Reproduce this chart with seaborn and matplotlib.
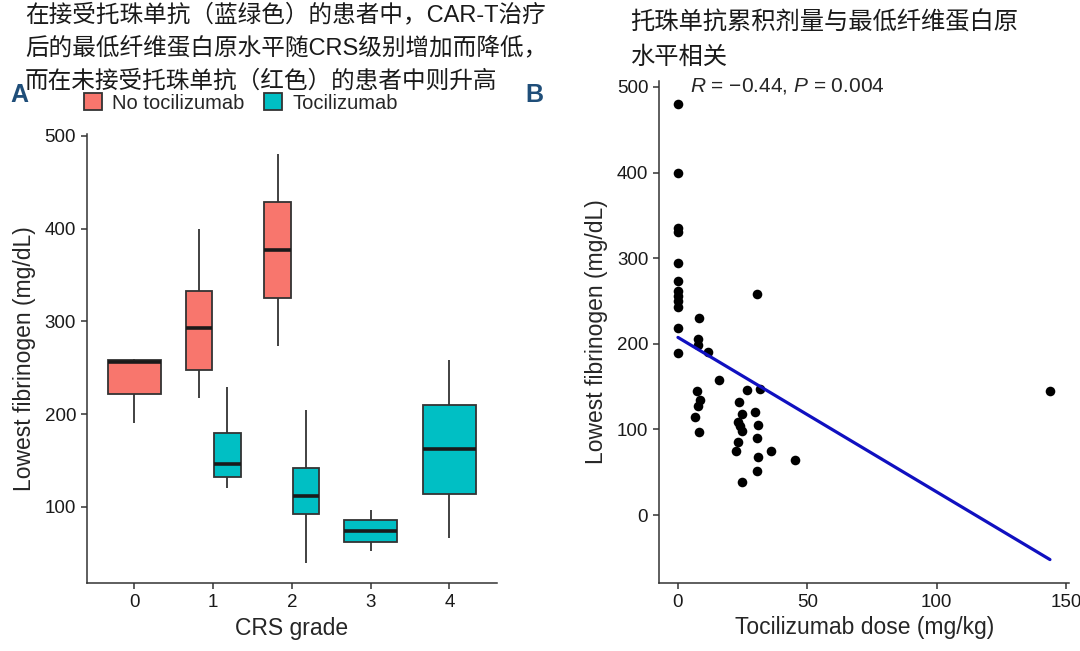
import pandas as pd
import matplotlib
matplotlib.use('Agg')
import matplotlib.pyplot as plt
import seaborn as sns

# Painel A: caixas por grau de CRS (mín, Q1, mediana, Q3, máx)
grades = ['0', '1', '2', '3', '4']
groups = ['No tocilizumab', 'Tocilizumab']
no_toci_grades = ['0', '1', '2']
no_toci_boxes = [[190, 222, 256, 258, 259],
                 [217, 248, 293, 333, 400],
                 [273, 325, 377, 429, 480]]
toci_grades = ['1', '2', '3', '4']
toci_boxes = [[120, 132, 146, 180, 229],
              [40, 92, 112, 142, 204],
              [52, 62, 74, 86, 97],
              [66, 114, 162, 210, 258]]

# Painel B: dose de tocilizumabe x fibrinogênio mínimo
dose = [0, 0, 0, 0, 0, 0, 0, 0, 0, 0, 0, 0,
        8.0, 7.7, 7.7, 7.3, 8.7, 7.7, 6.5, 8.0,
        11.6, 15.9,
        26.5, 23.5, 24.8, 23.2, 24.1, 24.8, 23.2, 22.3, 24.9,
        31.9, 29.9, 31.0, 30.7, 31.0, 30.7, 30.6,
        36.1, 45.4, 143.8]
fib = [480, 400, 335, 330, 294, 273, 262, 256, 250, 243, 218, 189,
       229.6, 205, 199, 144.5, 133.9, 127.7, 114.5, 96.4,
       190, 157.4,
       146.5, 132, 118, 108.2, 103.5, 97.6, 84.7, 74.2, 39.1,
       147.3, 119.9, 105.4, 89.9, 68.3, 51.6, 257.8,
       75, 64.4, 144.5]

titulo_a = ['在接受托珠单抗（蓝绿色）的患者中，CAR-T治疗',
            '后的最低纤维蛋白原水平随CRS级别增加而降低，',
            '而在未接受托珠单抗（红色）的患者中则升高']
titulo_b = ['托珠单抗累积剂量与最低纤维蛋白原', '水平相关']

cores = {'No tocilizumab': '#F8766D', 'Tocilizumab': '#00BFC4'}

sns.set_style('ticks')
plt.rcParams['font.family'] = ['Liberation Sans', 'Noto Sans CJK SC']
plt.rcParams['mathtext.fontset'] = 'custom'
plt.rcParams['mathtext.it'] = 'Liberation Sans:italic'
plt.rcParams['mathtext.rm'] = 'Liberation Sans'
plt.rcParams['axes.edgecolor'] = '#333333'
plt.rcParams['axes.linewidth'] = 1.1

linhas = []
for g, vals in zip(no_toci_grades, no_toci_boxes):
    linhas += [(g, groups[0], v) for v in vals]
for g, vals in zip(toci_grades, toci_boxes):
    linhas += [(g, groups[1], v) for v in vals]
df_box = pd.DataFrame(linhas, columns=['grade', 'group', 'fib'])
dois = df_box.groupby('grade')['group'].transform('nunique') == 2

fig = plt.figure(figsize=(10.8, 6.51), dpi=100)
ax1 = fig.add_axes([0.0808, 0.104, 0.379, 0.690])
ax2 = fig.add_axes([0.6105, 0.105, 0.3794, 0.7707])

box_kws = dict(x='grade', y='fib', hue='group', order=grades, hue_order=groups,
               palette=cores, saturation=1, whis=(0, 100),
               linecolor='#333333', linewidth=1.3,
               medianprops=dict(linewidth=2.6, color='#1a1a1a'),
               capprops=dict(visible=False), ax=ax1)
sns.boxplot(data=df_box[dois], dodge=True, width=0.72, gap=0.06, **box_kws)
sns.boxplot(data=df_box[~dois], dodge=False, width=0.68, legend=False, **box_kws)

ax1.set_xlim(-0.6, 4.6)
ax1.set_ylim(17.7, 501.8)
ax1.set_yticks([100, 200, 300, 400, 500])
ax1.set_xlabel('CRS grade', fontsize=16.5, labelpad=4)
ax1.set_ylabel('Lowest fibrinogen (mg/dL)', fontsize=16.5, labelpad=6)
sns.move_legend(ax1, 'center', bbox_to_anchor=(0.223, 0.842),
                bbox_transform=fig.transFigure, ncol=2, title=None,
                frameon=False, fontsize=14.5, handlelength=0.9,
                handleheight=0.9, columnspacing=1.0, handletextpad=0.5)

sns.regplot(x=dose, y=fib, ci=None, ax=ax2, color='black',
            scatter_kws=dict(s=48, linewidths=0, alpha=1),
            line_kws=dict(color='#1010c0', linewidth=2.3))
ax2.set_xlim(-7.2, 151.2)
ax2.set_ylim(-79, 507)
ax2.set_xticks([0, 50, 100, 150])
ax2.set_yticks([0, 100, 200, 300, 400, 500])
ax2.set_xlabel('Tocilizumab dose (mg/kg)', fontsize=16.5, labelpad=4)
ax2.set_ylabel('Lowest fibrinogen (mg/dL)', fontsize=16.5, labelpad=6)
ax2.text(4.7, 501.5, '$R$ = −0.44, $P$ = 0.004', fontsize=15, va='center')

for ax in (ax1, ax2):
    sns.despine(ax=ax)
    ax.tick_params(length=4, width=1.1, color='#333333', labelsize=13.5,
                   pad=4, labelcolor='#1a1a1a')

for i, t in enumerate(titulo_a):
    fig.text(25 / 1080, 1 - (15 + 33 * i) / 651, t, fontsize=17,
             va='center', ha='left', color='#1a1a1a')
for i, t in enumerate(titulo_b):
    fig.text(630 / 1080, 1 - (23 + 35 * i) / 651, t, fontsize=17.5,
             va='center', ha='left', color='#1a1a1a')
fig.text(10 / 1080, 1 - 95 / 651, 'A', fontsize=18, fontweight='bold',
         color='#1f4e79', va='center')
fig.text(525 / 1080, 1 - 95 / 651, 'B', fontsize=18, fontweight='bold',
         color='#1f4e79', va='center')

fig.savefig('out.png', dpi=100)
